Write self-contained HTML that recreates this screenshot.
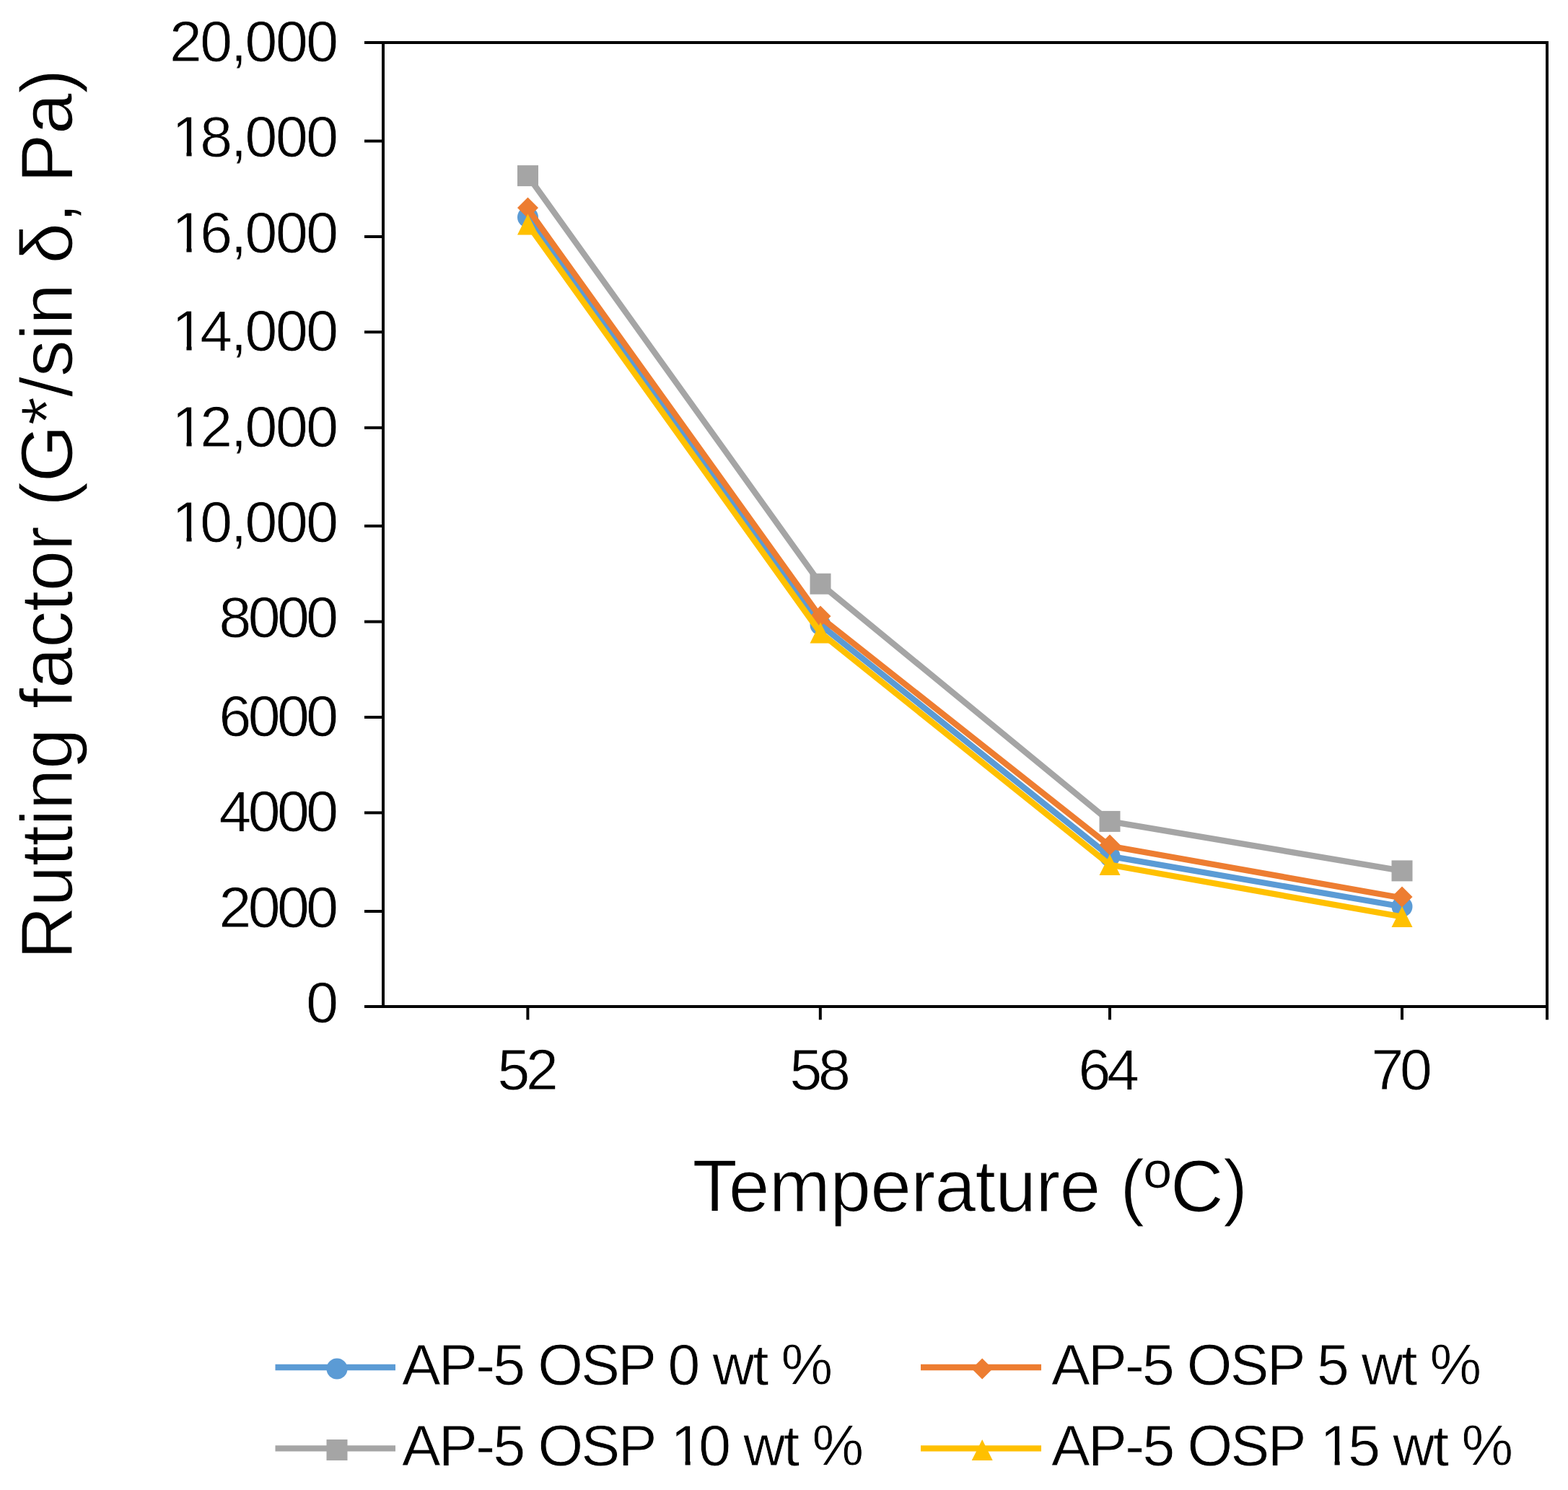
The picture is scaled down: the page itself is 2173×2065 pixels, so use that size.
<!DOCTYPE html>
<html lang="en">
<head>
<meta charset="utf-8">
<title>Rutting factor vs temperature</title>
<style>
html,body{margin:0;padding:0;background:#fff;}
body{width:2173px;height:2065px;overflow:hidden;}
svg{display:block;}
text{font-family:"Liberation Sans", sans-serif;fill:#000;}
.tick{font-size:80.5px;}
.tick text{stroke:#fff;stroke-width:0.8px;}
.title{font-size:102px;stroke:#fff;stroke-width:1.2px;}
.ax{stroke:#000;stroke-width:4;fill:none;stroke-linecap:butt;}
.ln{fill:none;stroke-width:8.3;stroke-linejoin:round;stroke-linecap:butt;}
</style>
</head>
<body>
<svg width="2173" height="2065" viewBox="0 0 2173 2065">
<rect x="0" y="0" width="2173" height="2065" fill="#fff"/>

<g id="axes">
<rect class="ax" x="531" y="59" width="1613" height="1336"/>
<line class="ax" x1="505" y1="59" x2="531" y2="59"/>
<line class="ax" x1="505" y1="195.5" x2="531" y2="195.5"/>
<line class="ax" x1="505" y1="328" x2="531" y2="328"/>
<line class="ax" x1="505" y1="460.2" x2="531" y2="460.2"/>
<line class="ax" x1="505" y1="592.8" x2="531" y2="592.8"/>
<line class="ax" x1="505" y1="729" x2="531" y2="729"/>
<line class="ax" x1="505" y1="861.6" x2="531" y2="861.6"/>
<line class="ax" x1="505" y1="994" x2="531" y2="994"/>
<line class="ax" x1="505" y1="1126.4" x2="531" y2="1126.4"/>
<line class="ax" x1="505" y1="1263" x2="531" y2="1263"/>
<line class="ax" x1="505" y1="1395" x2="531" y2="1395"/>
<line class="ax" x1="731.4" y1="1395" x2="731.4" y2="1413.3"/>
<line class="ax" x1="1136.8" y1="1395" x2="1136.8" y2="1413.3"/>
<line class="ax" x1="1538" y1="1395" x2="1538" y2="1413.3"/>
<line class="ax" x1="1943" y1="1395" x2="1943" y2="1413.3"/>
<line class="ax" x1="2144" y1="1395" x2="2144" y2="1413.3"/>
</g>
<g id="ylabels" class="tick" text-anchor="end">
<text x="469" y="85.0" textLength="234" lengthAdjust="spacing">20,000</text>
<text x="238.20 277.33 319.65 339.57 381.89 424.22" y="217.3" text-anchor="start">18,000</text>
<text x="238.20 277.33 319.65 339.57 381.89 424.22" y="349.7" text-anchor="start">16,000</text>
<text x="238.20 277.33 319.65 339.57 381.89 424.22" y="485.8" text-anchor="start">14,000</text>
<text x="238.20 277.33 319.65 339.57 381.89 424.22" y="618.7" text-anchor="start">12,000</text>
<text x="238.20 277.33 319.65 339.57 381.89 424.22" y="751.1" text-anchor="start">10,000</text>
<text x="469" y="883.3" textLength="165.4" lengthAdjust="spacing">8000</text>
<text x="469" y="1019.7" textLength="165.4" lengthAdjust="spacing">6000</text>
<text x="469" y="1152.1" textLength="165.4" lengthAdjust="spacing">4000</text>
<text x="469" y="1284.7" textLength="165.4" lengthAdjust="spacing">2000</text>
<text x="469" y="1417.2" textLength="41.35" lengthAdjust="spacing">0</text>
</g>
<g id="xlabels" class="tick" text-anchor="middle">
<text x="731.6" y="1509.6" textLength="84.3" lengthAdjust="spacing">52</text>
<text x="1136.7" y="1509.6" textLength="84.3" lengthAdjust="spacing">58</text>
<text x="1536.7" y="1509.6" textLength="84.3" lengthAdjust="spacing">64</text>
<text x="1942.6" y="1509.6" textLength="84.3" lengthAdjust="spacing">70</text>
</g>
<text id="xtitle" class="title" x="959.5" y="1678.6" textLength="769.5" lengthAdjust="spacing">Temperature (ºC)</text>
<text id="ytitle" class="title" transform="translate(99.7 1329.7) rotate(-90)" x="0" y="0" textLength="1234" lengthAdjust="spacing">Rutting factor (G*/sin δ, Pa)</text>
<g id="series">
<polyline class="ln" stroke="#5B9BD5" points="731.5,301 1137,866 1538,1186.7 1943,1256.5"/>
<circle cx="731.5" cy="301" r="14.5" fill="#5B9BD5"/>
<circle cx="1137" cy="866" r="14.5" fill="#5B9BD5"/>
<circle cx="1538" cy="1186.7" r="14.5" fill="#5B9BD5"/>
<circle cx="1943" cy="1256.5" r="14.5" fill="#5B9BD5"/>
<polyline class="ln" stroke="#ED7D31" points="731.5,289.5 1137,855.5 1538,1172.5 1943,1244.5"/>
<polygon points="731.5,273.5 746.0,288 731.5,302.5 717.0,288" fill="#ED7D31"/>
<polygon points="1137,839.5 1151.5,854 1137,868.5 1122.5,854" fill="#ED7D31"/>
<polygon points="1538,1156.5 1552.5,1171 1538,1185.5 1523.5,1171" fill="#ED7D31"/>
<polygon points="1943,1228.5 1957.5,1243 1943,1257.5 1928.5,1243" fill="#ED7D31"/>
<polyline class="ln" stroke="#A5A5A5" points="731.5,243.6 1137,809.2 1538,1138.4 1943,1206.9"/>
<rect x="717.0" y="229.1" width="29" height="29" fill="#A5A5A5"/>
<rect x="1122.5" y="794.7" width="29" height="29" fill="#A5A5A5"/>
<rect x="1523.5" y="1123.9" width="29" height="29" fill="#A5A5A5"/>
<rect x="1928.5" y="1192.4" width="29" height="29" fill="#A5A5A5"/>
<polyline class="ln" stroke="#FFC000" points="731.5,311 1137,877 1538,1198.5 1943,1270.5"/>
<polygon points="731.5,296.5 746.0,325.5 717.0,325.5" fill="#FFC000"/>
<polygon points="1137,862.5 1151.5,891.5 1122.5,891.5" fill="#FFC000"/>
<polygon points="1538,1184.0 1552.5,1213.0 1523.5,1213.0" fill="#FFC000"/>
<polygon points="1943,1256.0 1957.5,1285.0 1928.5,1285.0" fill="#FFC000"/>
</g>
<g id="legend" class="tick">
<line x1="381.5" y1="1895" x2="548" y2="1895" stroke="#5B9BD5" stroke-width="8.3"/>
<circle cx="467" cy="1897" r="14.5" fill="#5B9BD5"/>
<text x="557" y="1919" textLength="597" lengthAdjust="spacing">AP-5 OSP 0 wt %</text>
<line x1="1276" y1="1895" x2="1443" y2="1895" stroke="#ED7D31" stroke-width="8.3"/>
<polygon points="1361.2,1882.5 1375.7,1897 1361.2,1911.5 1346.7,1897" fill="#ED7D31"/>
<text x="1457" y="1919" textLength="596" lengthAdjust="spacing">AP-5 OSP 5 wt %</text>
<line x1="381.5" y1="2007.4" x2="548" y2="2007.4" stroke="#A5A5A5" stroke-width="8.3"/>
<rect x="452.5" y="1995.0" width="29" height="29" fill="#A5A5A5"/>
<text x="557.00 608.12 659.24 683.47 725.67 745.46 805.51 856.63 906.29 929.29 968.29 1010.49 1030.28 1085.84 1105.63 1125.42" y="2031.4" text-anchor="start">AP-5 OSP 10 wt %</text>
<line x1="1276" y1="2007.4" x2="1443" y2="2007.4" stroke="#FFC000" stroke-width="8.3"/>
<polygon points="1361.2,1995.0 1375.7,2024.0 1346.7,2024.0" fill="#FFC000"/>
<text x="1457.00 1508.12 1559.24 1583.47 1625.67 1645.46 1705.51 1756.63 1806.29 1829.29 1868.29 1910.49 1930.28 1985.84 2005.63 2025.42" y="2031.4" text-anchor="start">AP-5 OSP 15 wt %</text>
</g>
<g id="masks">
<rect x="243.03" y="209.65" width="15.46" height="9.26" fill="#fff"/>
<rect x="265.57" y="209.65" width="15.70" height="9.26" fill="#fff"/>
<rect x="243.03" y="342.05" width="15.46" height="9.26" fill="#fff"/>
<rect x="265.57" y="342.05" width="15.70" height="9.26" fill="#fff"/>
<rect x="243.03" y="478.15" width="15.46" height="9.26" fill="#fff"/>
<rect x="265.57" y="478.15" width="15.70" height="9.26" fill="#fff"/>
<rect x="243.03" y="611.05" width="15.46" height="9.26" fill="#fff"/>
<rect x="265.57" y="611.05" width="15.70" height="9.26" fill="#fff"/>
<rect x="243.03" y="743.45" width="15.46" height="9.26" fill="#fff"/>
<rect x="265.57" y="743.45" width="15.70" height="9.26" fill="#fff"/>
<rect x="934.12" y="2023.75" width="15.46" height="9.26" fill="#fff"/>
<rect x="956.66" y="2023.75" width="15.70" height="9.26" fill="#fff"/>
<rect x="1834.12" y="2023.75" width="15.46" height="9.26" fill="#fff"/>
<rect x="1856.66" y="2023.75" width="15.70" height="9.26" fill="#fff"/>
</g>
</svg>
</body>
</html>
